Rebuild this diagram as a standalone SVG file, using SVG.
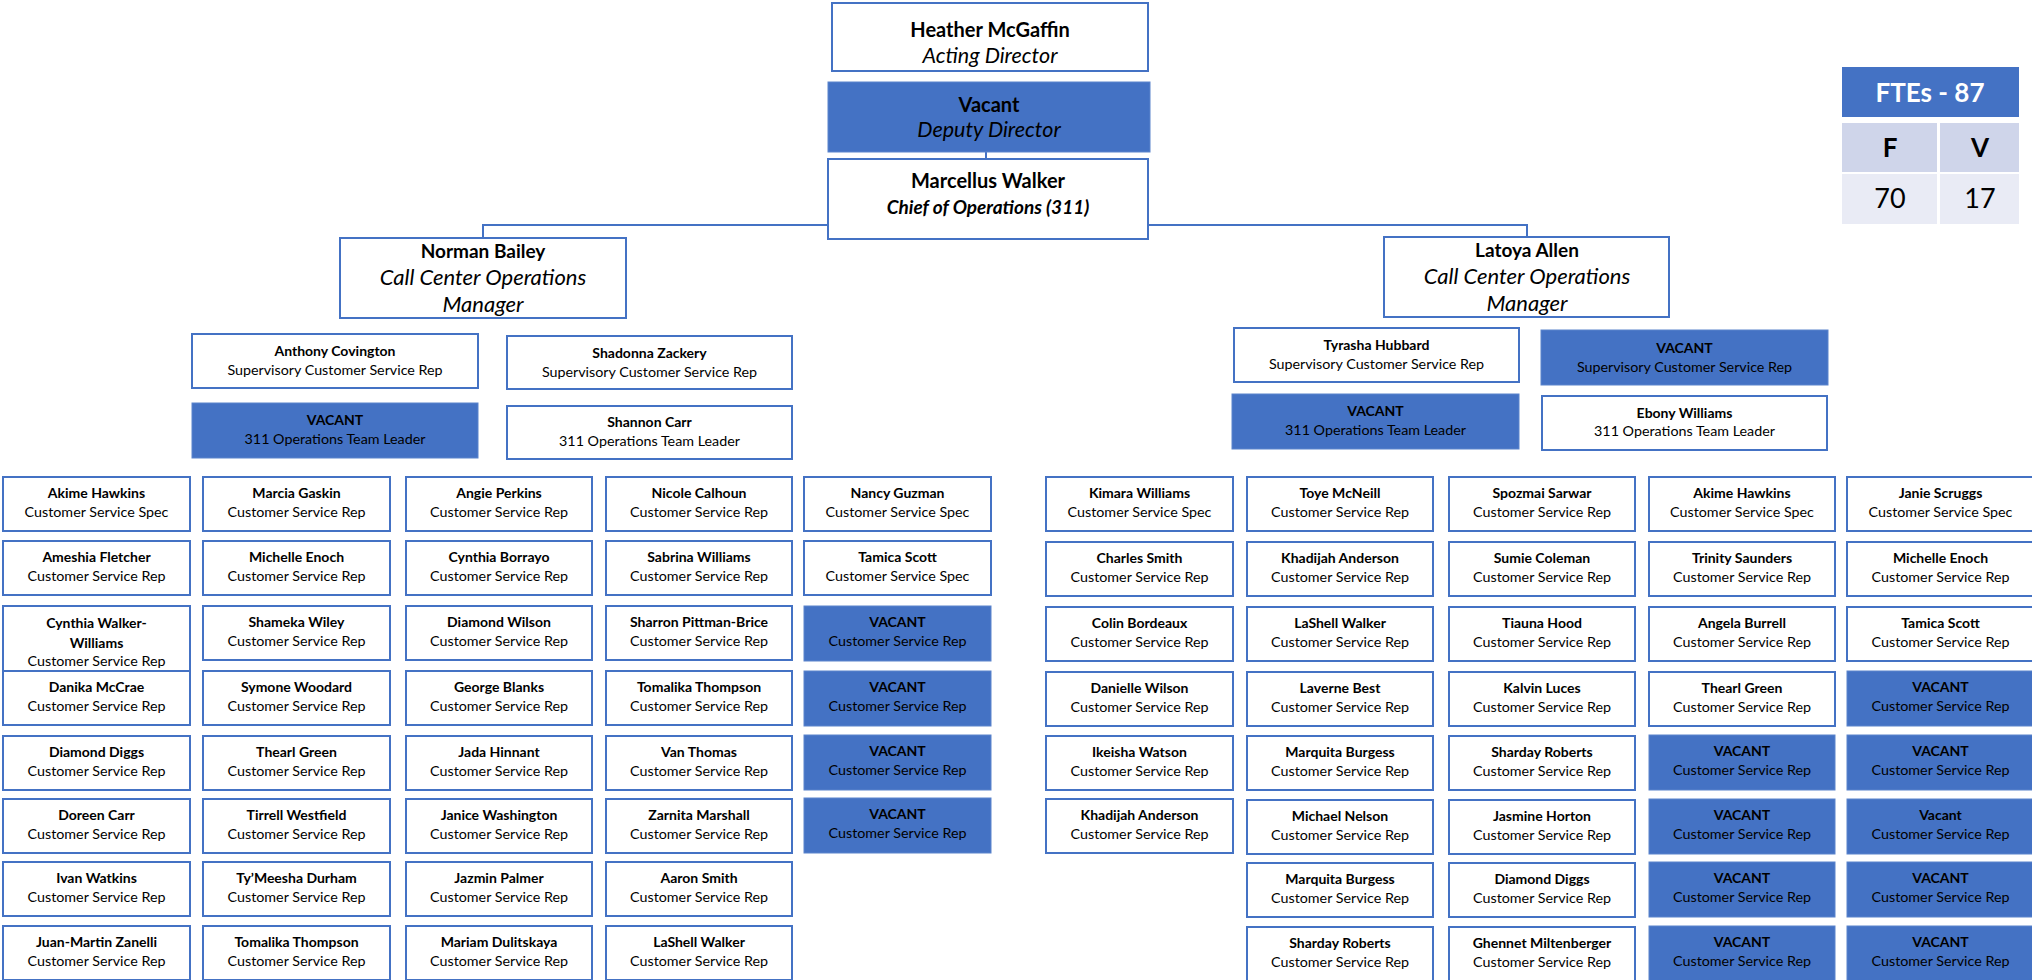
<svg xmlns="http://www.w3.org/2000/svg" width="2032" height="980" viewBox="0 0 2032 980">
<style>
.b{fill:#fff;stroke:#4472C4;stroke-width:2}
.v{fill:#4472C4;stroke:#5B84CC;stroke-width:1}
.n{font-family:Lato,"Liberation Sans",sans-serif;font-weight:bold;font-size:14px;text-anchor:middle;fill:#000}
.t{font-family:Lato,"Liberation Sans",sans-serif;font-size:14.3px;text-anchor:middle;fill:#000}
.hn{font-family:Lato,"Liberation Sans",sans-serif;font-weight:bold;font-size:20px;text-anchor:middle;fill:#000}
.mn{font-family:Lato,"Liberation Sans",sans-serif;font-weight:bold;font-size:19px;text-anchor:middle;fill:#000}
.ht{font-family:Lato,"Liberation Sans",sans-serif;font-style:italic;font-size:21.5px;text-anchor:middle;fill:#000}
.mt{font-family:Lato,"Liberation Sans",sans-serif;font-style:italic;font-size:22px;text-anchor:middle;fill:#000}
.hbi{font-family:Lato,"Liberation Sans",sans-serif;font-style:italic;font-weight:bold;font-size:19px;text-anchor:middle;fill:#000}
.c{stroke:#4472C4;stroke-width:2;fill:none}
.fh{font-family:Lato,"Liberation Sans",sans-serif;font-weight:bold;font-size:26px;text-anchor:middle;fill:#fff}
.fl{font-family:Lato,"Liberation Sans",sans-serif;font-weight:bold;font-size:26px;text-anchor:middle;fill:#000}
.fv{font-family:Lato,"Liberation Sans",sans-serif;font-size:27px;text-anchor:middle;fill:#000}
</style>
<rect width="2032" height="980" fill="#fff"/>
<g id="connectors">
<line class="c" x1="986" y1="152" x2="986" y2="159"/>
<polyline class="c" points="483,238 483,225 1527,225 1527,237"/>
</g>
<g id="heather"><rect class="b" x="832" y="3" width="316" height="68"/><text class="hn" x="990" y="37">Heather McGaffin</text><text class="ht" x="990" y="63">Acting Director</text></g>
<g id="deputy"><rect class="v" x="828" y="82" width="322" height="70"/><text class="hn" x="989" y="112">Vacant</text><text class="ht" x="989" y="137">Deputy Director</text></g>
<g id="marcellus"><rect class="b" x="828" y="159" width="320" height="80"/><text class="hn" x="988" y="188">Marcellus Walker</text><text class="hbi" x="988" y="214">Chief of Operations (311)</text></g>
<g id="norman"><rect class="b" x="340" y="238" width="286" height="80"/><text class="mn" x="483" y="258">Norman Bailey</text><text class="mt" x="483" y="285">Call Center Operations</text><text class="mt" x="483" y="312">Manager</text></g>
<g id="latoya"><rect class="b" x="1384" y="237" width="285" height="80"/><text class="mn" x="1527" y="257">Latoya Allen</text><text class="mt" x="1527" y="284">Call Center Operations</text><text class="mt" x="1527" y="311">Manager</text></g>

<g id="anthony"><rect class="b" x="192" y="334" width="286" height="54"/><text class="n" x="335" y="356">Anthony Covington</text><text class="t" x="335" y="375">Supervisory Customer Service Rep</text></g>
<g id="vacant-tl-left"><rect class="v" x="192" y="403" width="286" height="55"/><text class="n" x="335" y="425">VACANT</text><text class="t" x="335" y="444">311 Operations Team Leader</text></g>
<g id="shadonna"><rect class="b" x="507" y="336" width="285" height="53"/><text class="n" x="649.5" y="358">Shadonna Zackery</text><text class="t" x="649.5" y="377">Supervisory Customer Service Rep</text></g>
<g id="shannon"><rect class="b" x="507" y="406" width="285" height="53"/><text class="n" x="649.5" y="427">Shannon Carr</text><text class="t" x="649.5" y="446">311 Operations Team Leader</text></g>
<g id="tyrasha"><rect class="b" x="1234" y="328" width="285" height="54"/><text class="n" x="1376.5" y="350">Tyrasha Hubbard</text><text class="t" x="1376.5" y="369">Supervisory Customer Service Rep</text></g>
<g id="vacant-tl-right"><rect class="v" x="1232" y="394" width="287" height="55"/><text class="n" x="1375.5" y="416">VACANT</text><text class="t" x="1375.5" y="435">311 Operations Team Leader</text></g>
<g id="vacant-sup-right"><rect class="v" x="1541" y="330" width="287" height="55"/><text class="n" x="1684.5" y="353">VACANT</text><text class="t" x="1684.5" y="372">Supervisory Customer Service Rep</text></g>
<g id="ebony"><rect class="b" x="1542" y="396" width="285" height="54"/><text class="n" x="1684.5" y="418">Ebony Williams</text><text class="t" x="1684.5" y="436">311 Operations Team Leader</text></g>

<g id="fte">
<rect x="1842" y="67" width="177" height="50" fill="#4472C4"/>
<text class="fh" x="1930" y="102">FTEs - 87</text>
<rect x="1842" y="123" width="95" height="49" fill="#CFD5EA"/>
<rect x="1940" y="123" width="79" height="49" fill="#CFD5EA"/>
<rect x="1842" y="174" width="95" height="50" fill="#E9EBF5"/>
<rect x="1940" y="174" width="79" height="50" fill="#E9EBF5"/>
<text class="fl" x="1890" y="157">F</text>
<text class="fl" x="1980" y="157">V</text>
<text class="fv" x="1890" y="208">70</text>
<text class="fv" x="1980" y="208">17</text>
</g>

<!-- Left column 1 -->
<g id="l1-1" transform="translate(3,477)"><rect class="b" width="187" height="54"/><text class="n" x="93.5" y="21">Akime Hawkins</text><text class="t" x="93.5" y="40">Customer Service Spec</text></g>
<g id="l1-2" transform="translate(3,541)"><rect class="b" width="187" height="54"/><text class="n" x="93.5" y="21">Ameshia Fletcher</text><text class="t" x="93.5" y="40">Customer Service Rep</text></g>
<g id="l1-3" transform="translate(3,606)"><rect class="b" width="187" height="66"/><text class="n" x="93.5" y="22">Cynthia Walker-</text><text class="n" x="93.5" y="42">Williams</text><text class="t" x="93.5" y="60">Customer Service Rep</text></g>
<g id="l1-4" transform="translate(3,671)"><rect class="b" width="187" height="54"/><text class="n" x="93.5" y="21">Danika McCrae</text><text class="t" x="93.5" y="40">Customer Service Rep</text></g>
<g id="l1-5" transform="translate(3,736)"><rect class="b" width="187" height="54"/><text class="n" x="93.5" y="21">Diamond Diggs</text><text class="t" x="93.5" y="40">Customer Service Rep</text></g>
<g id="l1-6" transform="translate(3,799)"><rect class="b" width="187" height="54"/><text class="n" x="93.5" y="21">Doreen Carr</text><text class="t" x="93.5" y="40">Customer Service Rep</text></g>
<g id="l1-7" transform="translate(3,862)"><rect class="b" width="187" height="54"/><text class="n" x="93.5" y="21">Ivan Watkins</text><text class="t" x="93.5" y="40">Customer Service Rep</text></g>
<g id="l1-8" transform="translate(3,926)"><rect class="b" width="187" height="54"/><text class="n" x="93.5" y="21">Juan-Martin Zanelli</text><text class="t" x="93.5" y="40">Customer Service Rep</text></g>

<!-- Left column 2 -->
<g id="l2-1" transform="translate(203,477)"><rect class="b" width="187" height="54"/><text class="n" x="93.5" y="21">Marcia Gaskin</text><text class="t" x="93.5" y="40">Customer Service Rep</text></g>
<g id="l2-2" transform="translate(203,541)"><rect class="b" width="187" height="54"/><text class="n" x="93.5" y="21">Michelle Enoch</text><text class="t" x="93.5" y="40">Customer Service Rep</text></g>
<g id="l2-3" transform="translate(203,606)"><rect class="b" width="187" height="54"/><text class="n" x="93.5" y="21">Shameka Wiley</text><text class="t" x="93.5" y="40">Customer Service Rep</text></g>
<g id="l2-4" transform="translate(203,671)"><rect class="b" width="187" height="54"/><text class="n" x="93.5" y="21">Symone Woodard</text><text class="t" x="93.5" y="40">Customer Service Rep</text></g>
<g id="l2-5" transform="translate(203,736)"><rect class="b" width="187" height="54"/><text class="n" x="93.5" y="21">Thearl Green</text><text class="t" x="93.5" y="40">Customer Service Rep</text></g>
<g id="l2-6" transform="translate(203,799)"><rect class="b" width="187" height="54"/><text class="n" x="93.5" y="21">Tirrell Westfield</text><text class="t" x="93.5" y="40">Customer Service Rep</text></g>
<g id="l2-7" transform="translate(203,862)"><rect class="b" width="187" height="54"/><text class="n" x="93.5" y="21">Ty’Meesha Durham</text><text class="t" x="93.5" y="40">Customer Service Rep</text></g>
<g id="l2-8" transform="translate(203,926)"><rect class="b" width="187" height="54"/><text class="n" x="93.5" y="21">Tomalika Thompson</text><text class="t" x="93.5" y="40">Customer Service Rep</text></g>

<!-- Left column 3 -->
<g id="l3-1" transform="translate(406,477)"><rect class="b" width="186" height="54"/><text class="n" x="93" y="21">Angie Perkins</text><text class="t" x="93" y="40">Customer Service Rep</text></g>
<g id="l3-2" transform="translate(406,541)"><rect class="b" width="186" height="54"/><text class="n" x="93" y="21">Cynthia Borrayo</text><text class="t" x="93" y="40">Customer Service Rep</text></g>
<g id="l3-3" transform="translate(406,606)"><rect class="b" width="186" height="54"/><text class="n" x="93" y="21">Diamond Wilson</text><text class="t" x="93" y="40">Customer Service Rep</text></g>
<g id="l3-4" transform="translate(406,671)"><rect class="b" width="186" height="54"/><text class="n" x="93" y="21">George Blanks</text><text class="t" x="93" y="40">Customer Service Rep</text></g>
<g id="l3-5" transform="translate(406,736)"><rect class="b" width="186" height="54"/><text class="n" x="93" y="21">Jada Hinnant</text><text class="t" x="93" y="40">Customer Service Rep</text></g>
<g id="l3-6" transform="translate(406,799)"><rect class="b" width="186" height="54"/><text class="n" x="93" y="21">Janice Washington</text><text class="t" x="93" y="40">Customer Service Rep</text></g>
<g id="l3-7" transform="translate(406,862)"><rect class="b" width="186" height="54"/><text class="n" x="93" y="21">Jazmin Palmer</text><text class="t" x="93" y="40">Customer Service Rep</text></g>
<g id="l3-8" transform="translate(406,926)"><rect class="b" width="186" height="54"/><text class="n" x="93" y="21">Mariam Dulitskaya</text><text class="t" x="93" y="40">Customer Service Rep</text></g>

<!-- Left column 4 -->
<g id="l4-1" transform="translate(606,477)"><rect class="b" width="186" height="54"/><text class="n" x="93" y="21">Nicole Calhoun</text><text class="t" x="93" y="40">Customer Service Rep</text></g>
<g id="l4-2" transform="translate(606,541)"><rect class="b" width="186" height="54"/><text class="n" x="93" y="21">Sabrina Williams</text><text class="t" x="93" y="40">Customer Service Rep</text></g>
<g id="l4-3" transform="translate(606,606)"><rect class="b" width="186" height="54"/><text class="n" x="93" y="21">Sharron Pittman-Brice</text><text class="t" x="93" y="40">Customer Service Rep</text></g>
<g id="l4-4" transform="translate(606,671)"><rect class="b" width="186" height="54"/><text class="n" x="93" y="21">Tomalika Thompson</text><text class="t" x="93" y="40">Customer Service Rep</text></g>
<g id="l4-5" transform="translate(606,736)"><rect class="b" width="186" height="54"/><text class="n" x="93" y="21">Van Thomas</text><text class="t" x="93" y="40">Customer Service Rep</text></g>
<g id="l4-6" transform="translate(606,799)"><rect class="b" width="186" height="54"/><text class="n" x="93" y="21">Zarnita Marshall</text><text class="t" x="93" y="40">Customer Service Rep</text></g>
<g id="l4-7" transform="translate(606,862)"><rect class="b" width="186" height="54"/><text class="n" x="93" y="21">Aaron Smith</text><text class="t" x="93" y="40">Customer Service Rep</text></g>
<g id="l4-8" transform="translate(606,926)"><rect class="b" width="186" height="54"/><text class="n" x="93" y="21">LaShell Walker</text><text class="t" x="93" y="40">Customer Service Rep</text></g>

<!-- Left column 5 -->
<g id="l5-1" transform="translate(804,477)"><rect class="b" width="187" height="54"/><text class="n" x="93.5" y="21">Nancy Guzman</text><text class="t" x="93.5" y="40">Customer Service Spec</text></g>
<g id="l5-2" transform="translate(804,541)"><rect class="b" width="187" height="54"/><text class="n" x="93.5" y="21">Tamica Scott</text><text class="t" x="93.5" y="40">Customer Service Spec</text></g>
<g id="l5-3" transform="translate(804,606)"><rect class="v" width="187" height="55"/><text class="n" x="93.5" y="21">VACANT</text><text class="t" x="93.5" y="40">Customer Service Rep</text></g>
<g id="l5-4" transform="translate(804,671)"><rect class="v" width="187" height="55"/><text class="n" x="93.5" y="21">VACANT</text><text class="t" x="93.5" y="40">Customer Service Rep</text></g>
<g id="l5-5" transform="translate(804,735)"><rect class="v" width="187" height="55"/><text class="n" x="93.5" y="21">VACANT</text><text class="t" x="93.5" y="40">Customer Service Rep</text></g>
<g id="l5-6" transform="translate(804,798)"><rect class="v" width="187" height="55"/><text class="n" x="93.5" y="21">VACANT</text><text class="t" x="93.5" y="40">Customer Service Rep</text></g>

<!-- Right column 1 -->
<g id="r1-1" transform="translate(1046,477)"><rect class="b" width="187" height="54"/><text class="n" x="93.5" y="21">Kimara Williams</text><text class="t" x="93.5" y="40">Customer Service Spec</text></g>
<g id="r1-2" transform="translate(1046,542)"><rect class="b" width="187" height="54"/><text class="n" x="93.5" y="21">Charles Smith</text><text class="t" x="93.5" y="40">Customer Service Rep</text></g>
<g id="r1-3" transform="translate(1046,607)"><rect class="b" width="187" height="54"/><text class="n" x="93.5" y="21">Colin Bordeaux</text><text class="t" x="93.5" y="40">Customer Service Rep</text></g>
<g id="r1-4" transform="translate(1046,672)"><rect class="b" width="187" height="54"/><text class="n" x="93.5" y="21">Danielle Wilson</text><text class="t" x="93.5" y="40">Customer Service Rep</text></g>
<g id="r1-5" transform="translate(1046,736)"><rect class="b" width="187" height="54"/><text class="n" x="93.5" y="21">Ikeisha Watson</text><text class="t" x="93.5" y="40">Customer Service Rep</text></g>
<g id="r1-6" transform="translate(1046,799)"><rect class="b" width="187" height="54"/><text class="n" x="93.5" y="21">Khadijah Anderson</text><text class="t" x="93.5" y="40">Customer Service Rep</text></g>

<!-- Right column 2 -->
<g id="r2-1" transform="translate(1247,477)"><rect class="b" width="186" height="54"/><text class="n" x="93" y="21">Toye McNeill</text><text class="t" x="93" y="40">Customer Service Rep</text></g>
<g id="r2-2" transform="translate(1247,542)"><rect class="b" width="186" height="54"/><text class="n" x="93" y="21">Khadijah Anderson</text><text class="t" x="93" y="40">Customer Service Rep</text></g>
<g id="r2-3" transform="translate(1247,607)"><rect class="b" width="186" height="54"/><text class="n" x="93" y="21">LaShell Walker</text><text class="t" x="93" y="40">Customer Service Rep</text></g>
<g id="r2-4" transform="translate(1247,672)"><rect class="b" width="186" height="54"/><text class="n" x="93" y="21">Laverne Best</text><text class="t" x="93" y="40">Customer Service Rep</text></g>
<g id="r2-5" transform="translate(1247,736)"><rect class="b" width="186" height="54"/><text class="n" x="93" y="21">Marquita Burgess</text><text class="t" x="93" y="40">Customer Service Rep</text></g>
<g id="r2-6" transform="translate(1247,800)"><rect class="b" width="186" height="54"/><text class="n" x="93" y="21">Michael Nelson</text><text class="t" x="93" y="40">Customer Service Rep</text></g>
<g id="r2-7" transform="translate(1247,863)"><rect class="b" width="186" height="54"/><text class="n" x="93" y="21">Marquita Burgess</text><text class="t" x="93" y="40">Customer Service Rep</text></g>
<g id="r2-8" transform="translate(1247,927)"><rect class="b" width="186" height="54"/><text class="n" x="93" y="21">Sharday Roberts</text><text class="t" x="93" y="40">Customer Service Rep</text></g>

<!-- Right column 3 -->
<g id="r3-1" transform="translate(1449,477)"><rect class="b" width="186" height="54"/><text class="n" x="93" y="21">Spozmai Sarwar</text><text class="t" x="93" y="40">Customer Service Rep</text></g>
<g id="r3-2" transform="translate(1449,542)"><rect class="b" width="186" height="54"/><text class="n" x="93" y="21">Sumie Coleman</text><text class="t" x="93" y="40">Customer Service Rep</text></g>
<g id="r3-3" transform="translate(1449,607)"><rect class="b" width="186" height="54"/><text class="n" x="93" y="21">Tiauna Hood</text><text class="t" x="93" y="40">Customer Service Rep</text></g>
<g id="r3-4" transform="translate(1449,672)"><rect class="b" width="186" height="54"/><text class="n" x="93" y="21">Kalvin Luces</text><text class="t" x="93" y="40">Customer Service Rep</text></g>
<g id="r3-5" transform="translate(1449,736)"><rect class="b" width="186" height="54"/><text class="n" x="93" y="21">Sharday Roberts</text><text class="t" x="93" y="40">Customer Service Rep</text></g>
<g id="r3-6" transform="translate(1449,800)"><rect class="b" width="186" height="54"/><text class="n" x="93" y="21">Jasmine Horton</text><text class="t" x="93" y="40">Customer Service Rep</text></g>
<g id="r3-7" transform="translate(1449,863)"><rect class="b" width="186" height="54"/><text class="n" x="93" y="21">Diamond Diggs</text><text class="t" x="93" y="40">Customer Service Rep</text></g>
<g id="r3-8" transform="translate(1449,927)"><rect class="b" width="186" height="54"/><text class="n" x="93" y="21">Ghennet Miltenberger</text><text class="t" x="93" y="40">Customer Service Rep</text></g>

<!-- Right column 4 -->
<g id="r4-1" transform="translate(1649,477)"><rect class="b" width="186" height="54"/><text class="n" x="93" y="21">Akime Hawkins</text><text class="t" x="93" y="40">Customer Service Spec</text></g>
<g id="r4-2" transform="translate(1649,542)"><rect class="b" width="186" height="54"/><text class="n" x="93" y="21">Trinity Saunders</text><text class="t" x="93" y="40">Customer Service Rep</text></g>
<g id="r4-3" transform="translate(1649,607)"><rect class="b" width="186" height="54"/><text class="n" x="93" y="21">Angela Burrell</text><text class="t" x="93" y="40">Customer Service Rep</text></g>
<g id="r4-4" transform="translate(1649,672)"><rect class="b" width="186" height="54"/><text class="n" x="93" y="21">Thearl Green</text><text class="t" x="93" y="40">Customer Service Rep</text></g>
<g id="r4-5" transform="translate(1649,735)"><rect class="v" width="186" height="55"/><text class="n" x="93" y="21">VACANT</text><text class="t" x="93" y="40">Customer Service Rep</text></g>
<g id="r4-6" transform="translate(1649,799)"><rect class="v" width="186" height="55"/><text class="n" x="93" y="21">VACANT</text><text class="t" x="93" y="40">Customer Service Rep</text></g>
<g id="r4-7" transform="translate(1649,862)"><rect class="v" width="186" height="55"/><text class="n" x="93" y="21">VACANT</text><text class="t" x="93" y="40">Customer Service Rep</text></g>
<g id="r4-8" transform="translate(1649,926)"><rect class="v" width="186" height="55"/><text class="n" x="93" y="21">VACANT</text><text class="t" x="93" y="40">Customer Service Rep</text></g>

<!-- Right column 5 -->
<g id="r5-1" transform="translate(1847,477)"><rect class="b" width="187" height="54"/><text class="n" x="93.5" y="21">Janie Scruggs</text><text class="t" x="93.5" y="40">Customer Service Spec</text></g>
<g id="r5-2" transform="translate(1847,542)"><rect class="b" width="187" height="54"/><text class="n" x="93.5" y="21">Michelle Enoch</text><text class="t" x="93.5" y="40">Customer Service Rep</text></g>
<g id="r5-3" transform="translate(1847,607)"><rect class="b" width="187" height="54"/><text class="n" x="93.5" y="21">Tamica Scott</text><text class="t" x="93.5" y="40">Customer Service Rep</text></g>
<g id="r5-4" transform="translate(1847,671)"><rect class="v" width="187" height="55"/><text class="n" x="93.5" y="21">VACANT</text><text class="t" x="93.5" y="40">Customer Service Rep</text></g>
<g id="r5-5" transform="translate(1847,735)"><rect class="v" width="187" height="55"/><text class="n" x="93.5" y="21">VACANT</text><text class="t" x="93.5" y="40">Customer Service Rep</text></g>
<g id="r5-6" transform="translate(1847,799)"><rect class="v" width="187" height="55"/><text class="n" x="93.5" y="21">Vacant</text><text class="t" x="93.5" y="40">Customer Service Rep</text></g>
<g id="r5-7" transform="translate(1847,862)"><rect class="v" width="187" height="55"/><text class="n" x="93.5" y="21">VACANT</text><text class="t" x="93.5" y="40">Customer Service Rep</text></g>
<g id="r5-8" transform="translate(1847,926)"><rect class="v" width="187" height="55"/><text class="n" x="93.5" y="21">VACANT</text><text class="t" x="93.5" y="40">Customer Service Rep</text></g>
</svg>
